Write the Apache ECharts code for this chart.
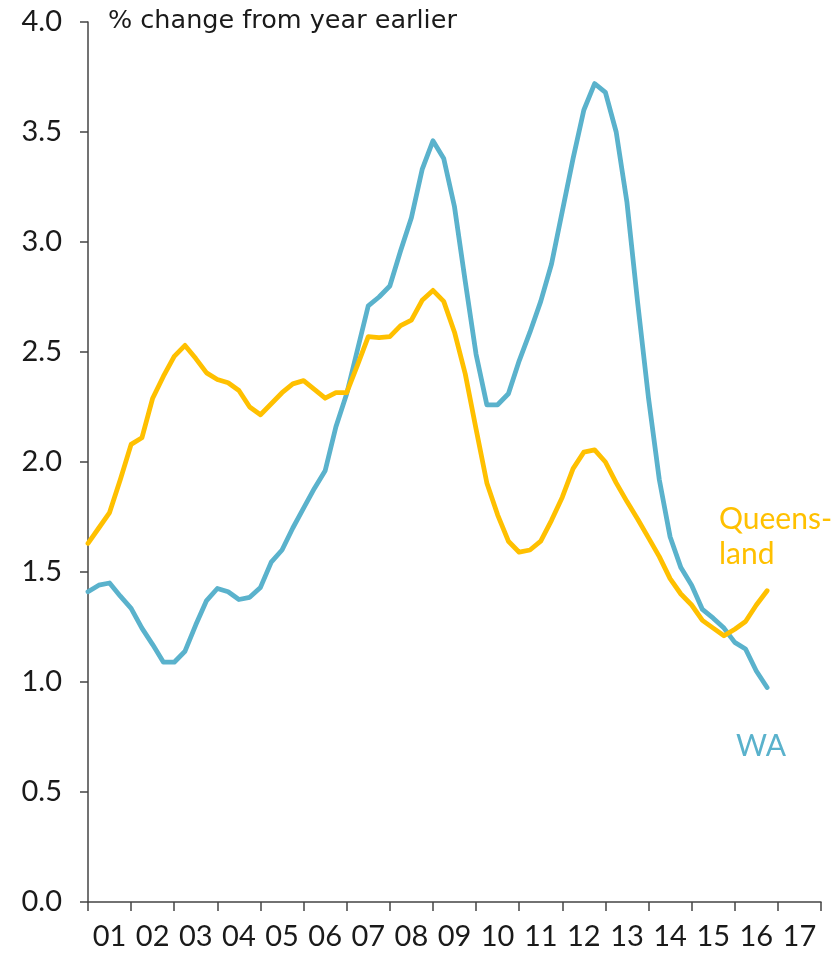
<!DOCTYPE html>
<html>
<head>
<meta charset="utf-8">
<script src="https://cdn.jsdelivr.net/npm/echarts@6/dist/echarts.min.js"></script>
<style>
  html, body { margin: 0; padding: 0; background: #fff; }
  #chart { width: 834px; height: 954px; }
</style>
</head>
<body>
<div id="chart"></div>
<script>
// year labels, one band per calendar year
const years = ['01', '02', '03', '04', '05', '06', '07', '08', '09', '10', '11', '12', '13', '14', '15', '16', '17']
const quartersPerYear = 4

// quarterly % change from year earlier, 2001 Q1 .. 2016 Q4
const wa = [
  1.41, 1.44, 1.45, 1.39, 1.335, 1.245, 1.17, 1.09,
  1.09, 1.14, 1.26, 1.37, 1.425, 1.41, 1.375, 1.385,
  1.43, 1.545, 1.60, 1.70, 1.79, 1.88, 1.96, 2.16,
  2.31, 2.51, 2.71, 2.75, 2.80, 2.96, 3.11, 3.33,
  3.46, 3.38, 3.16, 2.82, 2.49, 2.26, 2.26, 2.31,
  2.46, 2.59, 2.73, 2.90, 3.14, 3.38, 3.60, 3.72,
  3.68, 3.50, 3.18, 2.72, 2.29, 1.92, 1.66, 1.52,
  1.44, 1.33, 1.29, 1.245, 1.18, 1.15, 1.05, 0.975
]
const qld = [
  1.63, 1.70, 1.77, 1.92, 2.08, 2.11, 2.29, 2.39,
  2.48, 2.53, 2.47, 2.405, 2.375, 2.36, 2.325, 2.25,
  2.215, 2.265, 2.315, 2.355, 2.37, 2.33, 2.29, 2.315,
  2.315, 2.44, 2.57, 2.565, 2.57, 2.62, 2.645, 2.735,
  2.78, 2.73, 2.59, 2.40, 2.15, 1.905, 1.76, 1.64,
  1.59, 1.60, 1.64, 1.735, 1.84, 1.97, 2.045, 2.055,
  2.00, 1.905, 1.82, 1.74, 1.655, 1.57, 1.47, 1.40,
  1.35, 1.28, 1.245, 1.21, 1.24, 1.275, 1.35, 1.415
]

const BLUE = '#5AB2CC'
const GOLD = '#FFC000'
const FONT = 'Lato'

const toPoints = (arr) => arr.map((v, i) => [i, v])

const chart = echarts.init(document.getElementById('chart'), null, { renderer: 'canvas' })

chart.setOption({
  animation: false,
  backgroundColor: '#fff',
  title: {
    text: '% change from year earlier',
    left: 103,
    top: 3,
    textStyle: { fontFamily: 'DejaVu Sans', fontSize: 25.5, fontWeight: 'normal', color: '#1a1a1a' }
  },
  grid: { left: 88, right: 13, top: 22, bottom: 52 },
  xAxis: [
    {
      type: 'category',
      data: years,
      boundaryGap: true,
      axisLine: { lineStyle: { color: '#444', width: 1.5 } },
      axisTick: { show: true, interval: 0, length: 9, lineStyle: { color: '#444', width: 1.5 } },
      axisLabel: { interval: 0, margin: 20, fontFamily: FONT, fontSize: 29, color: '#1a1a1a' },
      splitLine: { show: false }
    },
    {
      type: 'value',
      min: 0,
      max: years.length * quartersPerYear,
      show: false
    }
  ],
  yAxis: {
    type: 'value',
    min: 0,
    max: 4,
    interval: 0.5,
    axisLine: { show: true, lineStyle: { color: '#444', width: 1.5 } },
    axisTick: { show: true, length: 8, lineStyle: { color: '#444', width: 1.5 } },
    axisLabel: {
      margin: 26,
      fontFamily: FONT,
      fontSize: 29,
      color: '#1a1a1a',
      formatter: (v) => v.toFixed(1)
    },
    splitLine: { show: false }
  },
  series: [
    {
      name: 'WA',
      type: 'line',
      xAxisIndex: 1,
      data: toPoints(wa),
      showSymbol: false,
      lineStyle: { color: BLUE, width: 4.8, join: 'round', cap: 'round' },
      z: 3
    },
    {
      name: 'Queensland',
      type: 'line',
      xAxisIndex: 1,
      data: toPoints(qld),
      showSymbol: false,
      lineStyle: { color: GOLD, width: 4.8, join: 'round', cap: 'round' },
      z: 4
    }
  ],
  graphic: [
    {
      type: 'text',
      left: 719,
      top: 502,
      style: { text: 'Queens-\nland', fill: GOLD, font: '30px ' + FONT, lineHeight: 35 }
    },
    {
      type: 'text',
      left: 736,
      top: 731,
      style: { text: 'WA', fill: BLUE, font: '30px ' + FONT }
    }
  ]
})
</script>
</body>
</html>
